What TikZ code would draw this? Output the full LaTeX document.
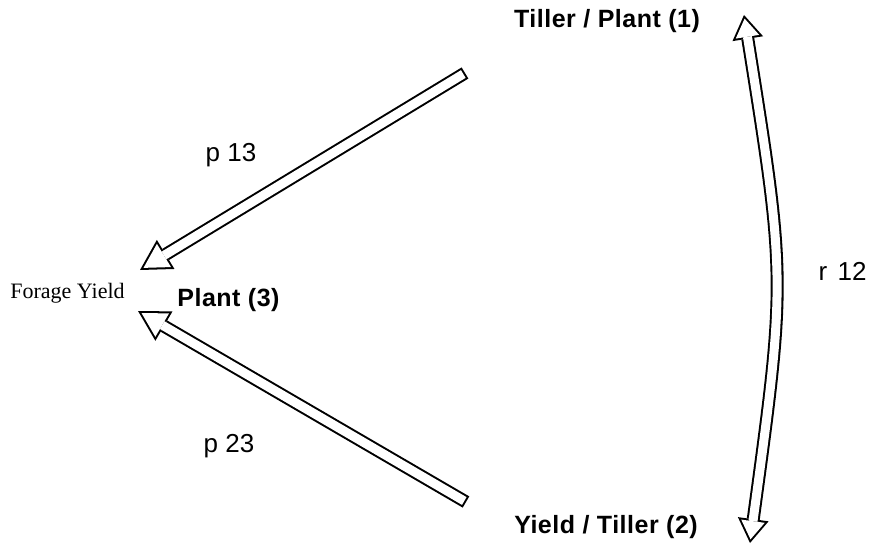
\documentclass[tikz,border=0pt]{standalone}
\usepackage{fontspec}
\usepackage{tikz}
\usetikzlibrary{arrows.meta, positioning, calc}
\newfontfamily\headfont{Liberation Sans}[LetterSpace=2]
\newfontfamily\coeffont{Liberation Sans}
\newfontfamily\yieldfont{Liberation Serif}
\tikzset{
  outertip/.tip={Triangle[length=30pt, width=34pt, line width=0pt]},
  innertip/.tip={Triangle[length=23.9pt, width=27.1pt, line width=0pt]},
  outerbend/.tip={Triangle[length=24pt, width=31pt, line width=0pt]},
  innerbend/.tip={Triangle[length=18.3pt, width=23.7pt, line width=0pt]},
  blockarrow/.style={white, line width=9pt, shorten >=4.1pt, shorten <=2pt, -innertip,
    preaction={draw, black, line width=13pt, shorten >=0pt, shorten <=0pt, -outertip}},
  blockboth/.style={white, line width=9pt, shorten >=3.7pt, shorten <=3.7pt, innerbend-innerbend,
    preaction={draw, black, line width=13pt, shorten >=0pt, shorten <=0pt, outerbend-outerbend}},
  headlabel/.style={font=\headfont\bfseries\fontsize{25}{30}\selectfont, anchor=base, inner sep=0pt},
  coeflabel/.style={font=\coeffont\fontsize{26}{30}\selectfont, anchor=base, inner sep=0pt},
  yieldlabel/.style={font=\yieldfont\fontsize{22}{26}\selectfont, anchor=base, inner sep=0pt}
}

\begin{document}
\begin{tikzpicture}[x=1pt, y=-1pt]
  \useasboundingbox (0,0) rectangle (872,545);
  % labels
  \node[headlabel] (tpp) at (607,28) {Tiller / Plant (1)};
  \node[headlabel] (plant) at (228.5,306) {Plant (3)};
  \node[headlabel] (ypt) at (606,533) {Yield / Tiller (2)};
  \node[yieldlabel] (forage) at (67.5,298) {Forage Yield};
  \node[coeflabel] (p13) at (231,162) {p 13};
  \node[coeflabel] (p23) at (229,452) {p 23};
  \node[coeflabel] (r12) at (842.5,280) {r\hspace{0.4em}12};
  % arrow ends
  \coordinate (tail13) at (465,73);
  \coordinate (tip13) at (140,270);
  \coordinate (tail23) at (466,502);
  \coordinate (tip23) at (138,311);
  \coordinate (top12) at (744,15);
  \coordinate (bend12) at (786,279);
  \coordinate (bot12) at (750,543);
  % paths
  \draw[blockarrow] (tail13) -- (tip13);
  \draw[blockarrow] (tail23) -- (tip23);
  \draw[blockboth] (top12) .. controls (bend12) .. (bot12);
\end{tikzpicture}
\end{document}
